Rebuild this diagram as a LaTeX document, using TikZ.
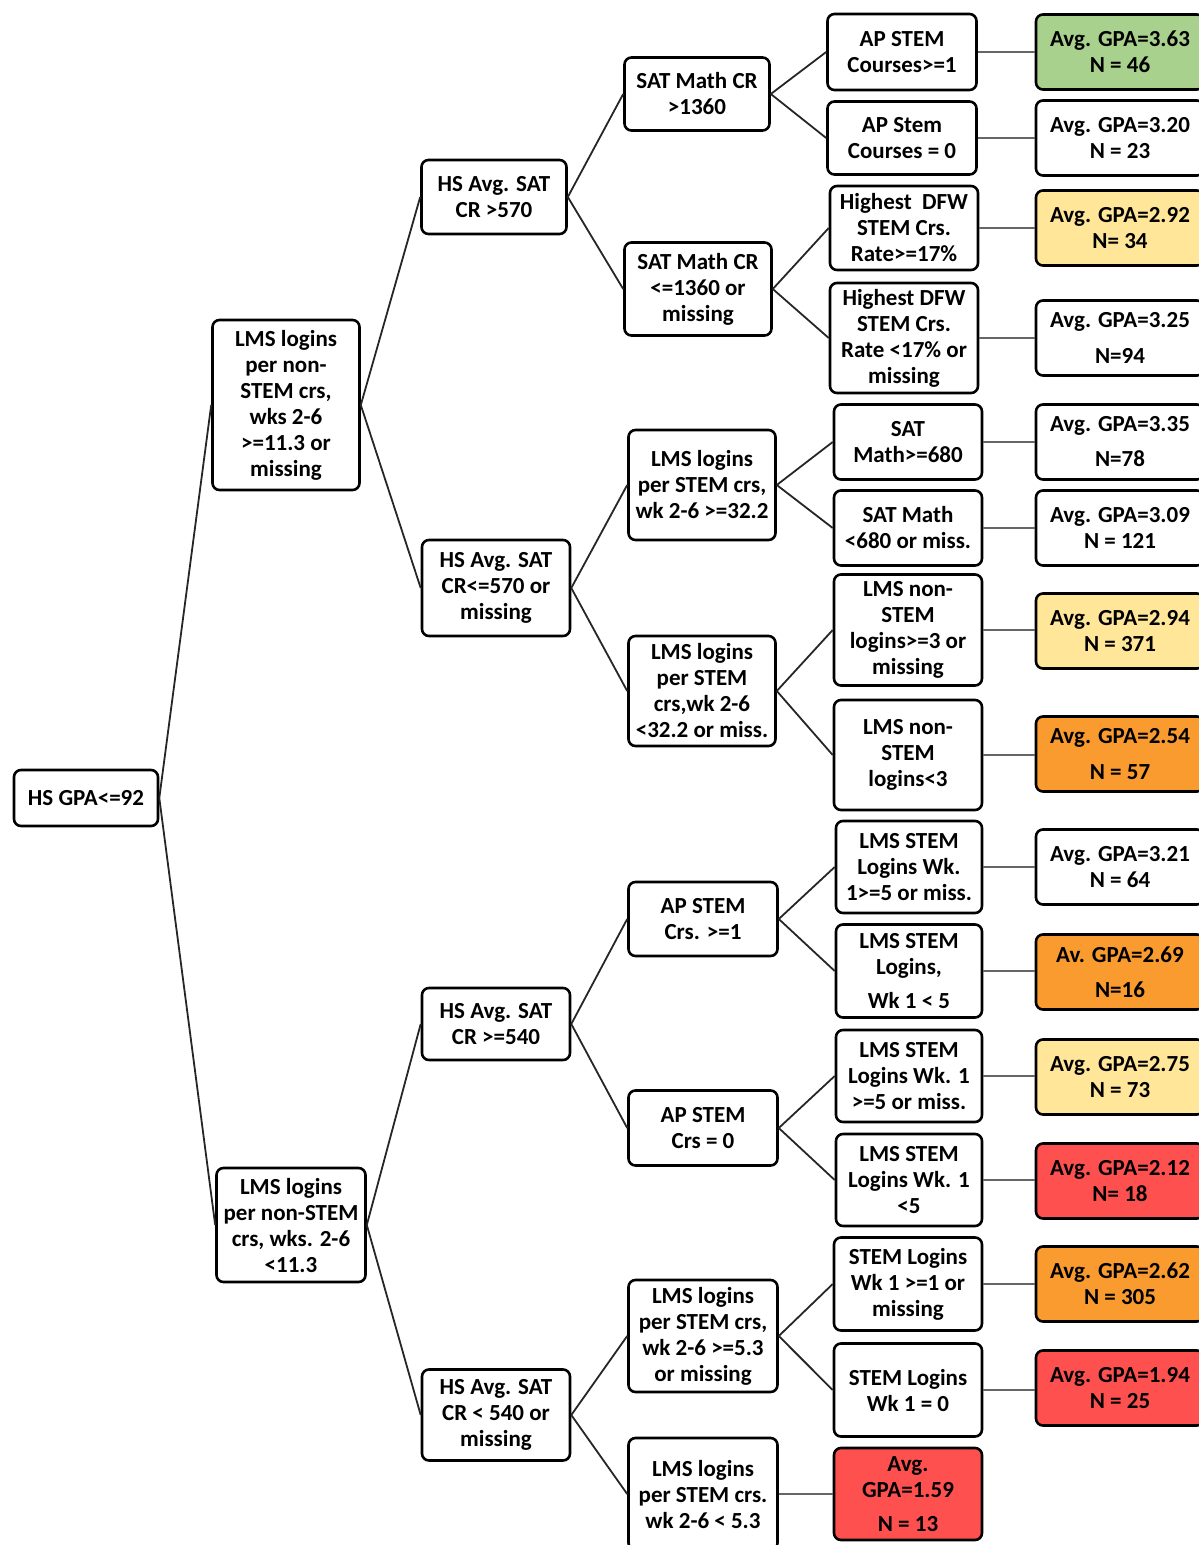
\documentclass[tikz,border=0pt]{standalone}
\usepackage{fontspec}
\setmainfont{Carlito}
\definecolor{gpagreen}{HTML}{A9D18E}
\definecolor{gpayellow}{HTML}{FFE699}
\definecolor{gpaorange}{HTML}{F99B2E}
\definecolor{gpared}{HTML}{FF5050}

\begin{document}
\begin{tikzpicture}[x=1pt,y=-1pt]
  \tikzset{split/.style={draw=black, line width=2.6pt, rounded corners=7pt, fill=white,
      align=center, inner sep=0pt, font=\bfseries\fontsize{23}{26}\selectfont},
    cell/.style 2 args={split, minimum width=#1, minimum height=#2},
    leaf/.style={split, minimum width=168pt, minimum height=75pt},
    branch/.style={draw=black!85, line width=1.8pt},
    twig/.style={draw=black!60, line width=2.6pt}}
  \useasboundingbox (0,0) rectangle (1199,1545);
  % root and first split
  \node[cell={144pt}{56pt}] (root) at (86,798) {HS GPA<=92};
  \node[cell={147pt}{170pt}] (a1) at (286,405) {LMS logins\\per non-\\STEM crs,\\wks 2-6\\>=11.3 or\\missing};
  \node[cell={149pt}{114pt}] (a2) at (291,1225) {LMS logins\\per non-STEM\\crs, wks. 2-6\\<11.3};
  % SAT CR splits
  \node[cell={145pt}{74pt}] (b1) at (494,197) {HS Avg. SAT\\CR >570};
  \node[cell={148pt}{96pt}] (b2) at (496,588) {HS Avg. SAT\\CR<=570 or\\missing};
  \node[cell={148pt}{72pt}] (b3) at (496,1024) {HS Avg. SAT\\CR >=540};
  \node[cell={148pt}{91pt}] (b4) at (496,1415) {HS Avg. SAT\\CR < 540 or\\missing};
  % third level
  \node[cell={145pt}{73pt}] (c1) at (697,94) {SAT Math CR\\>1360};
  \node[cell={147pt}{93pt}] (c2) at (698,289) {SAT Math CR\\<=1360 or\\missing};
  \node[cell={147pt}{110pt}] (c3) at (702,485) {LMS logins\\per STEM crs,\\wk 2-6 >=32.2};
  \node[cell={147pt}{110pt}] (c4) at (702,691) {LMS logins\\per STEM\\crs,wk 2-6\\<32.2 or miss.};
  \node[cell={149pt}{74pt}] (c5) at (703,919) {AP STEM\\Crs. >=1};
  \node[cell={149pt}{75pt}] (c6) at (703,1128) {AP STEM\\Crs = 0};
  \node[cell={149pt}{112pt}] (c7) at (703,1336) {LMS logins\\per STEM crs,\\wk 2-6 >=5.3\\or missing};
  \node[cell={149pt}{112pt}] (c8) at (703,1494) {LMS logins\\per STEM crs.\\wk 2-6 < 5.3};
  % fourth level
  \node[cell={149pt}{76pt}] (d1) at (902,52) {AP STEM\\Courses>=1};
  \node[cell={149pt}{73pt}] (d2) at (902,138) {AP Stem\\Courses = 0};
  \node[cell={148pt}{84pt}] (d3) at (904,228) {Highest\ \ DFW\\STEM Crs.\\Rate>=17\%};
  \node[cell={148pt}{110pt}] (d4) at (904,338) {Highest DFW\\STEM Crs.\\Rate <17\% or\\missing};
  \node[cell={148pt}{75pt}] (d5) at (908,442) {SAT\\Math>=680};
  \node[cell={148pt}{75pt}] (d6) at (908,528) {SAT Math\\<680 or miss.};
  \node[cell={148pt}{111pt}] (d7) at (908,630) {LMS non-\\STEM\\logins>=3 or\\missing};
  \node[cell={148pt}{110pt}] (d8) at (908,755) {LMS non-\\STEM\\logins<3};
  \node[cell={146pt}{92pt}] (d9) at (909,867) {LMS STEM\\Logins Wk.\\1>=5 or miss.};
  \node[cell={146pt}{93pt}] (d10) at (909,971) {LMS STEM\\Logins,\\[8pt]Wk 1 < 5};
  \node[cell={146pt}{92pt}] (d11) at (909,1076) {LMS STEM\\Logins Wk. 1\\>=5 or miss.};
  \node[cell={146pt}{92pt}] (d12) at (909,1180) {LMS STEM\\Logins Wk. 1\\<5};
  \node[cell={148pt}{93pt}] (d13) at (908,1284) {STEM Logins\\Wk 1 >=1 or\\missing};
  \node[cell={148pt}{93pt}] (d14) at (908,1390) {STEM Logins\\Wk 1 = 0};
  \node[cell={148pt}{92pt}, fill=gpared] (d15) at (908,1494) {Avg.\\GPA=1.59\\[8pt]N = 13};
  % leaves
  \node[leaf, fill=gpagreen] (l1) at (1120,52) {Avg. GPA=3.63\\N = 46};
  \node[leaf] (l2) at (1120,138) {Avg. GPA=3.20\\N = 23};
  \node[leaf, fill=gpayellow] (l3) at (1120,228) {Avg. GPA=2.92\\N= 34};
  \node[leaf] (l4) at (1120,338) {Avg. GPA=3.25\\[10pt]N=94};
  \node[leaf] (l5) at (1120,442) {Avg. GPA=3.35\\[9pt]N=78};
  \node[leaf] (l6) at (1120,528) {Avg. GPA=3.09\\N = 121};
  \node[leaf, fill=gpayellow] (l7) at (1120,631) {Avg. GPA=2.94\\N = 371};
  \node[leaf, fill=gpaorange] (l8) at (1120,754) {Avg. GPA=2.54\\[10pt]N = 57};
  \node[leaf] (l9) at (1120,867) {Avg. GPA=3.21\\N = 64};
  \node[leaf, fill=gpaorange] (l10) at (1120,972) {Av. GPA=2.69\\[9pt]N=16};
  \node[leaf, fill=gpayellow] (l11) at (1120,1077) {Avg. GPA=2.75\\N = 73};
  \node[leaf, fill=gpared] (l12) at (1120,1181) {Avg. GPA=2.12\\N= 18};
  \node[leaf, fill=gpaorange] (l13) at (1120,1284) {Avg. GPA=2.62\\N = 305};
  \node[leaf, fill=gpared] (l14) at (1120,1388) {Avg. GPA=1.94\\N = 25};
  % connectors
  \foreach \p/\c in {root/a1, root/a2, a1/b1, a1/b2, a2/b3, a2/b4,
      b1/c1, b1/c2, b2/c3, b2/c4, b3/c5, b3/c6, b4/c7, b4/c8,
      c1/d1, c1/d2, c2/d3, c2/d4, c3/d5, c3/d6, c4/d7, c4/d8,
      c5/d9, c5/d10, c6/d11, c6/d12, c7/d13, c7/d14}
    \draw[branch] (\p.east) -- (\c.west);
  \draw[twig] (c8.east) -- (d15.west);
  \foreach \i in {1,...,14}
    \draw[twig] (d\i.east) -- (d\i.east -| l\i.west);
\end{tikzpicture}
\end{document}
